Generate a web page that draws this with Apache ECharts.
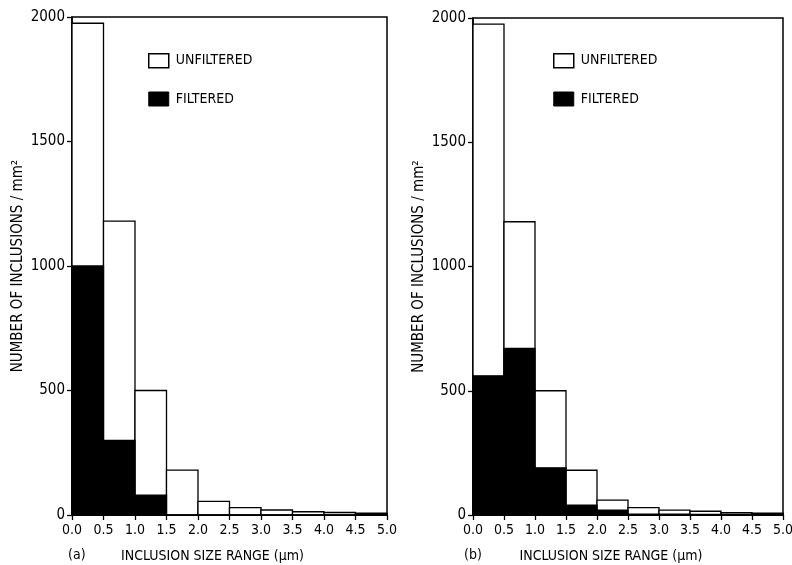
<!DOCTYPE html>
<html>
<head>
<meta charset="utf-8">
<script src="https://cdn.jsdelivr.net/npm/echarts@6/dist/echarts.min.js"></script>
<style>
html,body{margin:0;padding:0;background:#fff;}
#main{width:792px;height:565px;}
</style>
</head>
<body>
<div id="main"></div>
<script>
// bin edges (um)
var binEdges=[0,0.5,1.0,1.5,2.0,2.5,3.0,3.5,4.0,4.5,5.0];
// panel (a)
var unfilteredA=[1975,1180,500,180,55,30,20,13,10,7];
var filteredA=[1000,300,80,0,0,0,0,0,0,4];
// panel (b)
var unfilteredB=[1975,1180,500,180,60,30,20,15,9,7];
var filteredB=[560,670,190,40,20,3,3,2,2,4];
var yTicks=[0,500,1000,1500,2000];

var font='"DejaVu Sans Condensed","DejaVu Sans",sans-serif';
var tickFont='"Liberation Sans Narrow","DejaVu Sans Condensed",sans-serif';

//把计数转成 [lo,hi,value]
function toBins(vals){
    var out=[];
    for(let i=0;i<vals.length;i++){
        out.push([binEdges[i],binEdges[i+1],vals[i]]);
    }
    return out;
}

function histItem(fill){
    return function(params,api){
        var p0=api.coord([api.value(0),api.value(2)]);
        var p1=api.coord([api.value(1),0]);
        return {
            type:'rect',
            shape:{x:p0[0],y:p0[1],width:p1[0]-p0[0],height:p1[1]-p0[1]},
            style:{fill:fill,stroke:'#000',lineWidth:1.3}
        };
    };
}

function xAxis(idx){
    return {
        type:'value',gridIndex:idx,min:0,max:5,interval:0.5,
        name:'INCLUSION SIZE RANGE (µm)',nameLocation:'middle',nameGap:34,
        nameTextStyle:{color:'#000',fontFamily:font,fontSize:14,padding:[0,34,0,0]},
        axisLine:{lineStyle:{color:'#000',width:1.5}},
        axisTick:{show:true,length:5,lineStyle:{color:'#000',width:1.3}},
        axisLabel:{color:'#000',fontFamily:tickFont,fontSize:14,margin:8,
            formatter:function(v){return v.toFixed(1);}},
        splitLine:{show:false}
    };
}
function yAxis(idx){
    return {
        type:'value',gridIndex:idx,min:yTicks[0],max:yTicks[yTicks.length-1],interval:500,
        name:'NUMBER OF INCLUSIONS / mm²',nameLocation:'middle',nameGap:46,
        nameTextStyle:{color:'#000',fontFamily:font,fontSize:15},
        axisLine:{show:true,lineStyle:{color:'#000',width:1.5}},
        axisTick:{show:true,length:5,lineStyle:{color:'#000',width:1.3}},
        axisLabel:{color:'#000',fontFamily:tickFont,fontSize:15,margin:7,
            formatter:function(v){return String(v);}},
        splitLine:{show:false}
    };
}
function legend(left){
    return {
        left:left,top:48,orient:'vertical',itemWidth:20,itemHeight:14,itemGap:23,icon:'rect',
        selectedMode:false,
        textStyle:{color:'#000',fontFamily:font,fontSize:14,padding:[0,0,0,2]},
        data:[
            {name:'UNFILTERED',itemStyle:{color:'#fff',borderColor:'#000',borderWidth:1.5}},
            {name:'FILTERED',itemStyle:{color:'#000',borderColor:'#000',borderWidth:1}}
        ]
    };
}
function series(name,vals,idx,fill){
    return {
        type:'custom',name:name,xAxisIndex:idx,yAxisIndex:idx,
        renderItem:histItem(fill),
        itemStyle:{color:fill,borderColor:'#000'},
        encode:{x:[0,1],y:2},
        data:toBins(vals),
        silent:true
    };
}

var chart=echarts.init(document.getElementById('main'),null,{renderer:'canvas'});
var option={
    backgroundColor:'#fff',
    animation:false,
    grid:[
        {left:72,right:405,top:17,bottom:50,show:true,borderColor:'#000',borderWidth:1.5,outerBoundsMode:'none',containLabel:false},
        {left:473,right:9,top:18,bottom:50,show:true,borderColor:'#000',borderWidth:1.5,outerBoundsMode:'none',containLabel:false}
    ],
    xAxis:[xAxis(0),xAxis(1)],
    yAxis:[yAxis(0),yAxis(1)],
    legend:[legend(143),legend(548)],
    series:[
        series('UNFILTERED',unfilteredA,0,'#fff'),
        series('FILTERED',filteredA,0,'#000'),
        series('UNFILTERED',unfilteredB,1,'#fff'),
        series('FILTERED',filteredB,1,'#000')
    ],
    graphic:[
        {type:'text',left:68,top:548,style:{text:'(a)',fill:'#000',font:'14px '+font}},
        {type:'text',left:464,top:548,style:{text:'(b)',fill:'#000',font:'14px '+font}}
    ]
};
chart.setOption(option);
</script>
</body>
</html>
